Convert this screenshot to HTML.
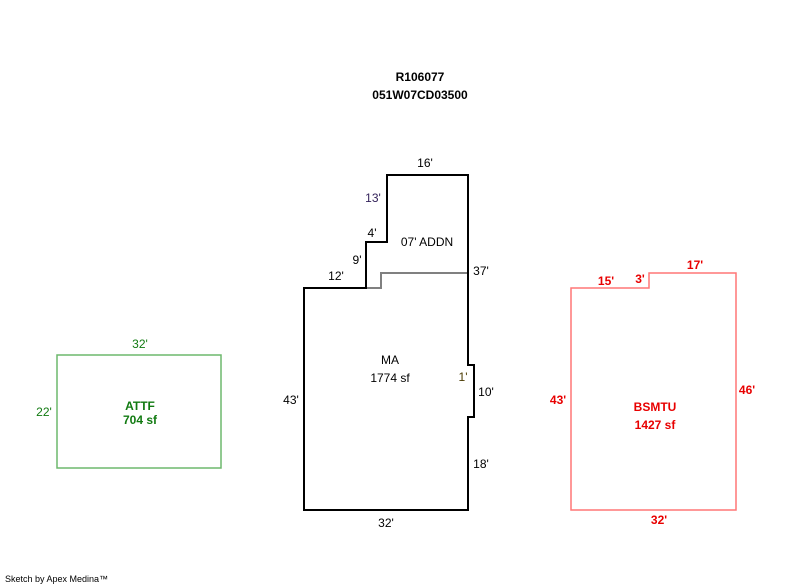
<!DOCTYPE html>
<html><head><meta charset="utf-8"><style>
html,body{margin:0;padding:0;background:#fff;}
svg{display:block;}
text{font-family:"Liberation Sans",Arial,sans-serif;font-size:12px;}
</style></head><body>
<svg width="800" height="587" viewBox="0 0 800 587" xmlns="http://www.w3.org/2000/svg">
<rect width="800" height="587" fill="#fff"/>
<text x="420" y="81" text-anchor="middle" font-weight="bold" fill="#000">R106077</text>
<text x="420" y="99" text-anchor="middle" font-weight="bold" fill="#000">051W07CD03500</text>

<!-- Main -->
<polyline points="366,288 381,288 381,273 468,273" fill="none" stroke="#808080" stroke-width="2"/>
<polygon points="304,288 366,288 366,242 387,242 387,175 468,175 468,365 474,365 474,417 468,417 468,510 304,510" fill="none" stroke="#000" stroke-width="2"/>
<g fill="#000">
<text x="425" y="167" text-anchor="middle">16'</text>
<text x="373" y="202" text-anchor="middle" fill="#33225a">13'</text>
<text x="372" y="237" text-anchor="middle">4'</text>
<text x="427" y="246" text-anchor="middle">07' ADDN</text>
<text x="357" y="264" text-anchor="middle">9'</text>
<text x="336" y="280" text-anchor="middle">12'</text>
<text x="481" y="275" text-anchor="middle">37'</text>
<text x="390" y="364" text-anchor="middle">MA</text>
<text x="390" y="382" text-anchor="middle">1774 sf</text>
<text x="463" y="381" text-anchor="middle" fill="#4a3a00">1'</text>
<text x="486" y="396" text-anchor="middle">10'</text>
<text x="291" y="404" text-anchor="middle">43'</text>
<text x="481" y="468" text-anchor="middle">18'</text>
<text x="386" y="527" text-anchor="middle">32'</text>
</g>

<!-- ATTF -->
<rect x="57" y="355" width="164" height="113" fill="none" stroke="#6db86d" stroke-width="1.5"/>
<g fill="#117a11">
<text x="140" y="348" text-anchor="middle">32'</text>
<text x="44" y="416" text-anchor="middle">22'</text>
<text x="140" y="410" text-anchor="middle" font-weight="bold">ATTF</text>
<text x="140" y="424" text-anchor="middle" font-weight="bold">704 sf</text>
</g>

<!-- BSMTU -->
<polygon points="571,288 649,288 649,273 736,273 736,510 571,510" fill="none" stroke="#ff7777" stroke-width="1.5"/>
<g fill="#e80000" font-weight="bold">
<text x="606" y="285" text-anchor="middle">15'</text>
<text x="640" y="283" text-anchor="middle">3'</text>
<text x="695" y="269" text-anchor="middle">17'</text>
<text x="558" y="404" text-anchor="middle">43'</text>
<text x="747" y="394" text-anchor="middle">46'</text>
<text x="655" y="411" text-anchor="middle">BSMTU</text>
<text x="655" y="429" text-anchor="middle">1427 sf</text>
<text x="659" y="524" text-anchor="middle">32'</text>
</g>

<text x="5" y="582" fill="#000" style="font-size:9px">Sketch by Apex Medina™</text>
</svg>
</body></html>
